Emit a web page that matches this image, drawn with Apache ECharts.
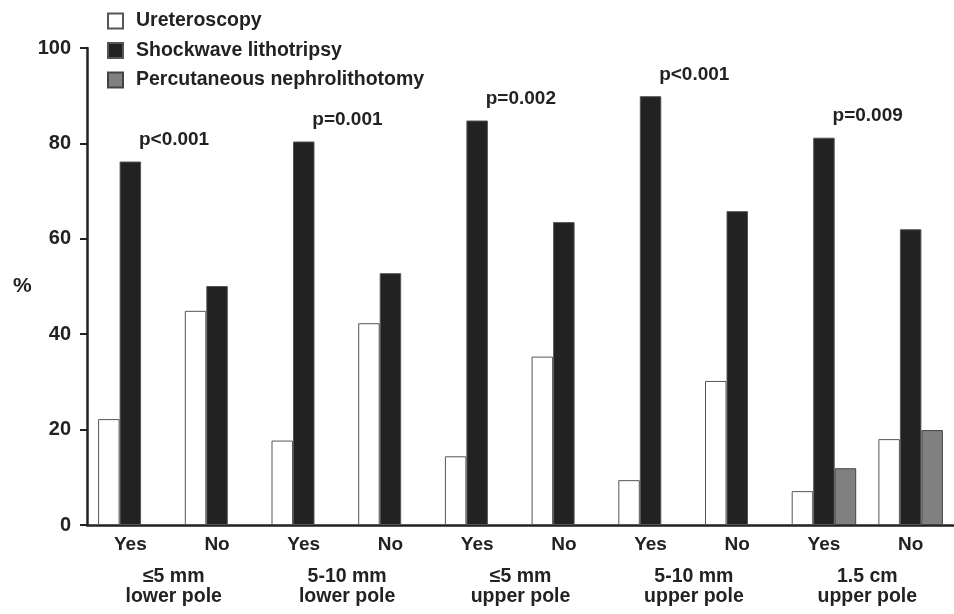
<!DOCTYPE html>
<html>
<head>
<meta charset="utf-8">
<script src="https://cdn.jsdelivr.net/npm/echarts@6/dist/echarts.min.js"></script>
<style>
html,body{margin:0;padding:0;background:#fff;}
#chart{width:954px;height:614px;}
</style>
</head>
<body>
<div id="chart"></div>
<script>
var categories = ['Yes','No','Yes','No','Yes','No','Yes','No','Yes','No'];
var groups = ['\u22645 mm\nlower pole','5-10 mm\nlower pole','\u22645 mm\nupper pole','5-10 mm\nupper pole','1.5 cm\nupper pole'];
var ureteroscopy = [22.2, 44.9, 17.7, 42.3, 14.4, 35.3, 9.4, 30.2, 7.1, 18.0];
var shockwave = [76.2, 50.1, 80.4, 52.8, 84.8, 63.5, 89.9, 65.8, 81.2, 62.0];
var percutaneous = [null, null, null, null, null, null, null, null, 11.9, 19.9];
var pLabels = ['p<0.001','','p=0.001','','p=0.002','','p<0.001','','p=0.009',''];
var yTicks = [0, 20, 40, 60, 80, 100];

var FONT = '"Liberation Sans", Arial, sans-serif';
var TXT = '#222';
var chart = echarts.init(document.getElementById('chart'), null, {renderer:'canvas'});
var option = {
  animation: false,
  backgroundColor: '#fff',
  textStyle: {fontFamily: FONT},
  legend: {
    orient: 'vertical',
    left: 107, top: 11, padding: 0,
    itemWidth: 15, itemHeight: 15, itemGap: 9.5,
    icon: 'rect',
    textStyle: {fontFamily: FONT, fontSize: 19.5, fontWeight: 'bold', color: TXT, lineHeight: 18, padding: [0,0,0,8]},
    data: ['Ureteroscopy','Shockwave lithotripsy','Percutaneous nephrolithotomy']
  },
  grid: {left: 87, top: 48, width: 874, height: 477, containLabel: false},
  xAxis: [{
    type: 'category',
    data: categories,
    axisLine: {lineStyle: {color: TXT, width: 2.5}},
    axisTick: {show: false},
    axisLabel: {fontFamily: FONT, fontSize: 19, fontWeight: 'bold', color: TXT, margin: 10},
    splitLine: {show: false}
  }, {
    type: 'category',
    data: groups,
    position: 'bottom',
    offset: 32,
    axisLine: {show: false},
    axisTick: {show: false},
    axisLabel: {fontFamily: FONT, fontSize: 19.5, fontWeight: 'bold', color: TXT, lineHeight: 20, margin: 10},
    splitLine: {show: false}
  }],
  yAxis: {
    type: 'value',
    min: 0, max: 100, interval: 20,
    name: '%',
    nameLocation: 'middle',
    nameRotate: 0,
    nameGap: 54,
    nameTextStyle: {fontFamily: FONT, fontSize: 21, fontWeight: 'bold', color: TXT},
    axisLine: {show: true, lineStyle: {color: TXT, width: 2.5}},
    axisTick: {show: true, length: 7, lineStyle: {color: TXT, width: 2}},
    axisLabel: {fontFamily: FONT, fontSize: 20, fontWeight: 'bold', color: TXT, margin: 16,
      formatter: function(v){ return yTicks.indexOf(v) >= 0 ? String(v) : ''; }},
    splitLine: {show: false}
  },
  series: [{
    name: 'Ureteroscopy',
    type: 'bar',
    data: ureteroscopy,
    barWidth: 21.5,
    barGap: '0%',
    itemStyle: {color: '#ffffff', borderColor: '#555', borderWidth: 1}
  }, {
    name: 'Shockwave lithotripsy',
    type: 'bar',
    data: shockwave,
    barWidth: 21.5,
    barGap: '0%',
    itemStyle: {color: '#222222', borderColor: '#555', borderWidth: 1},
    label: {
      show: true,
      position: 'top',
      distance: 5,
      offset: [43.7, -7],
      fontFamily: FONT, fontSize: 19, fontWeight: 'bold', color: TXT,
      formatter: function(p){ return pLabels[p.dataIndex]; }
    }
  }, {
    name: 'Percutaneous nephrolithotomy',
    type: 'bar',
    data: percutaneous,
    barWidth: 21.5,
    barGap: '0%',
    itemStyle: {color: '#808080', borderColor: '#444', borderWidth: 1}
  }]
};
chart.setOption(option);
</script>
</body>
</html>
